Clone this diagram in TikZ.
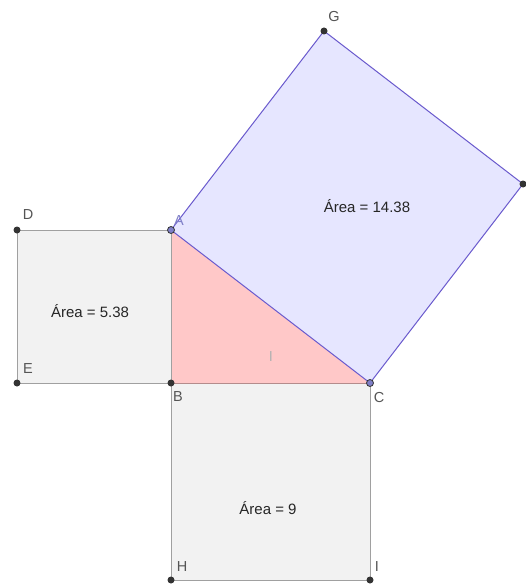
\documentclass[tikz,border=0pt]{standalone}
\usepackage{fontspec}
\setmainfont{Liberation Sans}
\definecolor{sqfill}{HTML}{F2F2F2}
\definecolor{sqline}{HTML}{A0A0A0}
\definecolor{trifill}{HTML}{FFC8C8}
\definecolor{bigfill}{HTML}{E6E6FF}
\definecolor{bigline}{HTML}{6A5ACD}
\definecolor{ptdark}{HTML}{333333}
\definecolor{ptblue}{HTML}{7F7FC8}
\definecolor{lbl}{HTML}{555555}
\tikzset{
  pt/.style={circle,fill=ptdark,inner sep=0pt,minimum size=7pt},
  ptb/.style={circle,fill=ptblue,draw=ptdark,line width=0.8pt,inner sep=0pt,minimum size=7pt},
  lab/.style={text=lbl,font=\fontsize{14.5}{16}\selectfont,inner sep=0pt},
  area/.style={text=black!85,font=\fontsize{15}{17}\selectfont,inner sep=0pt},
}
\begin{document}
\begin{tikzpicture}[x=1pt,y=-1pt]
\useasboundingbox (0,0) rectangle (526,588);
\clip (0,0) rectangle (526,588);
\fill[white] (0,0) rectangle (526,588);
\coordinate (A) at (171,230);
\coordinate (B) at (171,383);
\coordinate (C) at (370,383);
\coordinate (D) at (17,230);
\coordinate (E) at (17,383);
\coordinate (G) at (324,31);
\coordinate (F) at (523,184);
\coordinate (H) at (171,580);
\coordinate (I) at (370,580);
% squares
\filldraw[fill=sqfill,draw=sqline,line width=0.8pt] (A) -- (D) -- (E) -- (B) -- cycle;
\filldraw[fill=sqfill,draw=sqline,line width=0.8pt] (B) -- (C) -- (I) -- (H) -- cycle;
\fill[trifill] (A) -- (B) -- (C) -- cycle;
\draw[sqline,line width=0.8pt] (A) -- (B);
\draw[color={rgb,255:red,180;green,140;blue,140},line width=0.8pt] (B) -- (C);
\filldraw[fill=bigfill,draw=bigline,line width=1pt] (A) -- (G) -- (F) -- (C) -- cycle;
% points
\node[pt] (nD) at (D) {};
\node[pt] (nE) at (E) {};
\node[pt] (nB) at (B) {};
\node[pt] (nG) at (G) {};
\node[pt] (nF) at (F) {};
\node[pt] (nH) at (H) {};
\node[pt] (nI) at (I) {};
\node[ptb] (nA) at (A) {};
\node[ptb] (nC) at (C) {};
% labels
\node[lab,text=ptblue] (lA) at (179,221) {A};
\node[lab] (lB) at (178,397) {B};
\node[lab] (lC) at (379,398) {C};
\node[lab] (lD) at (28,215) {D};
\node[lab] (lE) at (28,369) {E};
\node[lab] (lG) at (334,17) {G};
\node[lab] (lH) at (182,567) {H};
\node[lab] (lI) at (377,567) {I};
\node[lab,text=black!30] (lI2) at (271,357) {I};
\node[area] (a1) at (367,206) {Área = 14.38};
\node[area] (a2) at (90,311) {Área = 5.38};
\node[area] (a3) at (268,508) {Área = 9};
\end{tikzpicture}
\end{document}
